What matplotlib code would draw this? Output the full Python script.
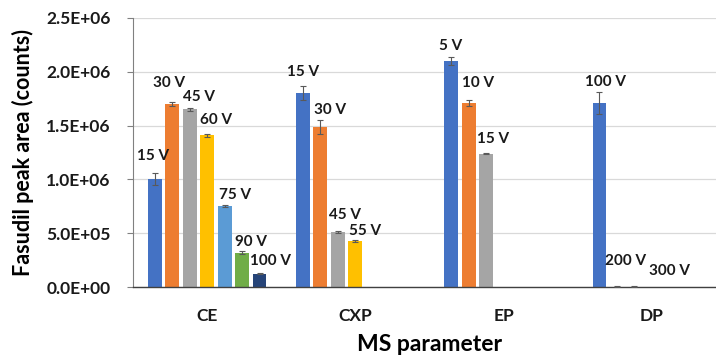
import numpy as np
from matplotlib import pyplot as plt

plt.rcParams['font.family'] = ['Lato', 'DejaVu Sans']
plt.rcParams['font.weight'] = 'bold'

categories = ['CE', 'CXP', 'EP', 'DP']

# peak areas per MS parameter setting (counts)
ce_volts = ['15 V', '30 V', '45 V', '60 V', '75 V', '90 V', '100 V']
ce_values = [1.00e6, 1.70e6, 1.65e6, 1.41e6, 0.75e6, 0.32e6, 0.125e6]
ce_err = [0.055e6, 0.018e6, 0.010e6, 0.015e6, 0.010e6, 0.012e6, 0.008e6]

cxp_volts = ['15 V', '30 V', '45 V', '55 V']
cxp_values = [1.80e6, 1.49e6, 0.51e6, 0.43e6]
cxp_err = [0.065e6, 0.065e6, 0.010e6, 0.010e6]

ep_volts = ['5 V', '10 V', '15 V']
ep_values = [2.10e6, 1.71e6, 1.24e6]
ep_err = [0.035e6, 0.028e6, 0.008e6]

dp_volts = ['100 V', '200 V', '300 V']
dp_values = [1.71e6, 3.0e3, 3.0e3]
dp_err = [0.10e6, 2.0e3, 2.0e3]

colors = ['#4472C4', '#ED7D31', '#A5A5A5', '#FFC000', '#5B9BD5', '#70AD47', '#264478']

# label offsets in pixels (dx, dy above bar top), hand placed like the original
label_offsets = [
    [(-2, 23), (-3, 21), (9, 12), (9, 15), (10, 11), (9, 11), (11, 13)],
    [(0, 21), (10, 17), (7, 17), (10, 10)],
    [(-1, 15), (9, 20), (7, 15)],
    [(6, 21), (9, 26), (35, 16)],
]

fig = plt.figure(figsize=(7.16, 3.6), dpi=100)
ax = fig.add_axes([133 / 716, 73 / 360, 593 / 716, 269 / 360])

pitch = 0.118
groups = [(ce_volts, ce_values, ce_err), (cxp_volts, cxp_values, cxp_err),
          (ep_volts, ep_values, ep_err), (dp_volts, dp_values, dp_err)]
px = 0.72  # points per pixel at 100 dpi

for g, (volts, vals, errs) in enumerate(groups):
    for i, (v, y, e) in enumerate(zip(volts, vals, errs)):
        x = g + (i - 3) * pitch
        ax.bar(x, y, width=0.093, color=colors[i], zorder=2)
        ax.errorbar(x, y, yerr=e, fmt='none', ecolor='#595959', elinewidth=0.8,
                    capsize=2.5, capthick=0.8, zorder=3)
        dx, dy = label_offsets[g][i]
        ax.annotate(v, (x, y), xytext=(dx * px, dy * px), textcoords='offset points',
                    ha='center', va='center', fontsize=11, fontweight='bold', color='#1a1a1a')

ax.set_xlim(-0.5, 3.5)
ax.set_ylim(0, 2.5e6)
ax.set_yticks(np.arange(0, 2.51e6, 0.5e6))
ax.set_yticklabels(['%.1E' % t for t in np.arange(0, 2.51e6, 0.5e6)])
ax.set_xticks(range(len(categories)))
ax.set_xticklabels(categories)
ax.tick_params(axis='x', length=0, pad=15, labelsize=12.5)
ax.tick_params(axis='y', length=4, width=0.8, color='#808080', pad=12, labelsize=12.5)
for lab in ax.get_xticklabels() + ax.get_yticklabels():
    lab.set_fontweight('bold')
    lab.set_color('#1a1a1a')

ax.yaxis.grid(True, color='#D9D9D9', linewidth=0.9, zorder=0)
ax.set_axisbelow(True)
ax.spines['top'].set_visible(False)
ax.spines['right'].set_visible(False)
ax.spines['left'].set_color('#808080')
ax.spines['bottom'].set_color('#404040')
ax.spines['bottom'].set_linewidth(1.0)

ax.set_ylabel('Fasudil peak area (counts)', fontsize=15.5, fontweight='bold', labelpad=9)
ax.set_xlabel('MS parameter', fontsize=16.5, fontweight='bold', labelpad=7)

plt.savefig('out.png', dpi=100)
